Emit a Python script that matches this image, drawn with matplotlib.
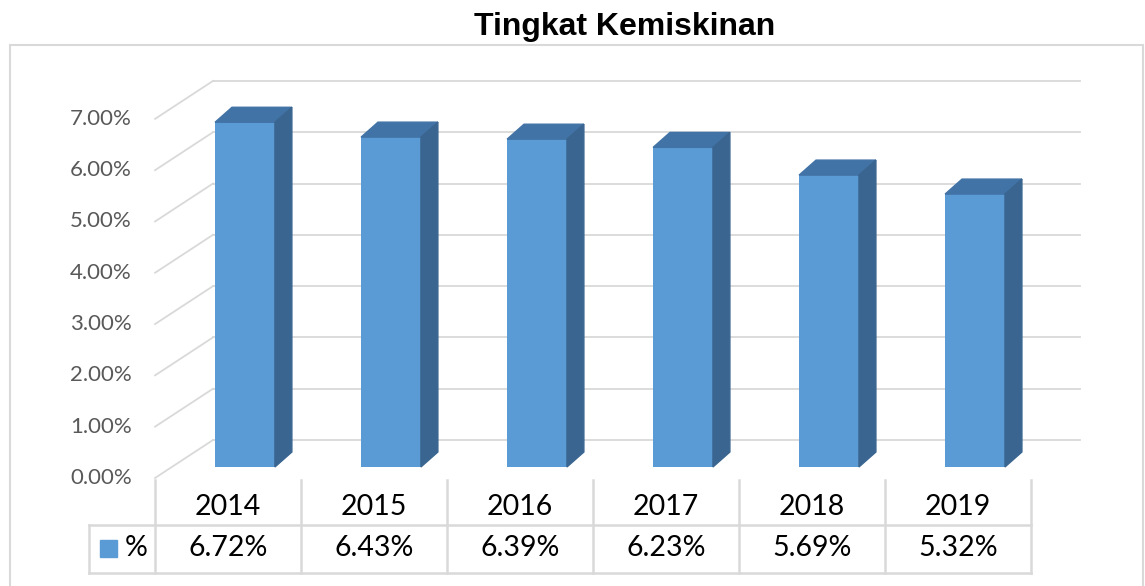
import matplotlib.pyplot as plt
from matplotlib.patches import Polygon, Rectangle

# data
years = ["2014", "2015", "2016", "2017", "2018", "2019"]
poverty = [6.72, 6.43, 6.39, 6.23, 5.69, 5.32]
value_labels = ["6.72%", "6.43%", "6.39%", "6.23%", "5.69%", "5.32%"]
y_ticks = [0, 1, 2, 3, 4, 5, 6, 7]
series_name = "%"

front_col = "#5B9BD5"
top_col = "#4273A6"
side_col = "#3A6590"
grid_col = "#D9D9D9"

# 3d look (data units)
bar_w = 0.41
depth_dx, depth_dy = 0.116, 0.292
wall_dx, wall_dy = -0.219, 0.526
floor_dx, floor_dy = -0.616, -0.214
wall_right = 5.72

fig = plt.figure(figsize=(11.45, 5.86), dpi=100)
ax = fig.add_axes([0, 0, 1, 1])
ax.set_xlim(-1.678, 6.164)
ax.set_ylim(-2.32, 9.103)
ax.axis("off")

# gridlines: back wall + diagonal on side wall
for t in y_ticks:
    ax.plot([wall_dx, wall_right], [t + wall_dy, t + wall_dy], color=grid_col, lw=1.3, zorder=1)
    ax.plot([floor_dx, wall_dx], [t + floor_dy, t + wall_dy], color=grid_col, lw=1.3, zorder=1)
    ax.text(floor_dx - 0.158, t + floor_dy, f"{t:.2f}%", ha="right", va="center",
            fontsize=16, color="#595959", family="Lato")

# bars
xs = list(range(len(years)))
ax.bar(xs, poverty, width=bar_w, color=front_col, zorder=3)
for x, v in zip(xs, poverty):
    l, r = x - bar_w / 2, x + bar_w / 2
    ax.add_patch(Polygon([(l, v), (r, v), (r + depth_dx, v + depth_dy), (l + depth_dx, v + depth_dy)],
                         closed=True, color=top_col, zorder=3))
    ax.add_patch(Polygon([(r, 0), (r, v), (r + depth_dx, v + depth_dy), (r + depth_dx, depth_dy)],
                         closed=True, color=side_col, zorder=3))

# data table under the chart
row_top, row_mid, row_bot = -0.253, -1.131, -2.066
tab_left = floor_dx
legend_left = -1.068
for k in range(len(years) + 1):
    ax.plot([tab_left + k, tab_left + k], [row_top, row_bot], color=grid_col, lw=1.8, zorder=2)
ax.plot([legend_left, legend_left], [row_mid, row_bot], color=grid_col, lw=1.8, zorder=2)
ax.plot([legend_left, tab_left + len(years)], [row_mid, row_mid], color=grid_col, lw=1.8, zorder=2)
ax.plot([legend_left, tab_left + len(years)], [row_bot, row_bot], color=grid_col, lw=1.8, zorder=2)

for k, (yr, lab) in enumerate(zip(years, value_labels)):
    cx = tab_left + k + 0.5
    ax.text(cx, -0.78, yr, ha="center", va="center", fontsize=20.5, family="Lato", color="black")
    ax.text(cx, -1.579, lab, ha="center", va="center", fontsize=20.5, family="Lato", color="black")

# legend key in table
ax.add_patch(Rectangle((-0.995, -1.754), 0.116, 0.33, color=front_col, zorder=3))
ax.text(-0.747, -1.579, series_name, ha="center", va="center", fontsize=20.5, family="Lato", color="black")

# chart border and title
fig.patches.append(Rectangle((10 / 1145, -0.05), 1133 / 1145, 1.05 - 45 / 586,
                             transform=fig.transFigure, fill=False, edgecolor=grid_col, lw=1.5))
fig.text(625 / 1145, 1 - 27 / 586, "Tingkat Kemiskinan", ha="center", va="center",
         fontsize=23, fontweight="bold", family="Liberation Sans")

plt.savefig("out.png", dpi=100)
